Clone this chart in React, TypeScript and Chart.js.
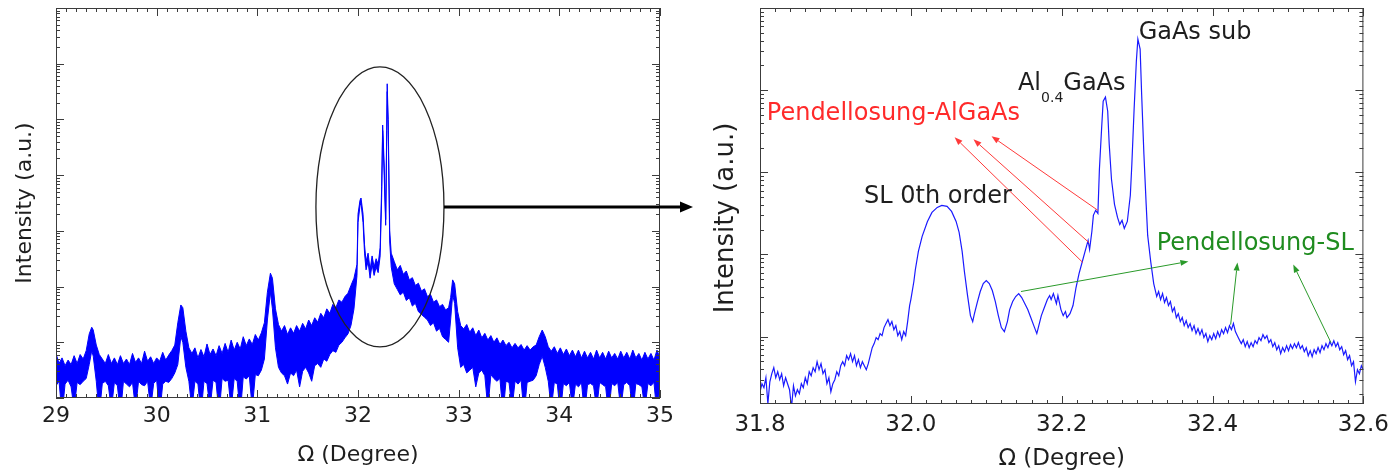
import React, { useEffect, useRef } from 'react';
import { Chart, registerables } from 'chart.js';

Chart.register(...registerables);

const FONT = "'DejaVu Sans', 'Liberation Sans', sans-serif";
const BLUE = '#0000ff';
const INK = '#1e1e1e';

// ---------- Left panel: wide Ω scan (y in decades of intensity) ----------
const leftTicks = [29, 30, 31, 32, 33, 34, 35];
const leftOmega = [
  29.00, 29.03, 29.06, 29.09, 29.12, 29.15, 29.18, 29.21, 29.24, 29.27,
  29.30, 29.33, 29.355, 29.37, 29.40, 29.43, 29.46, 29.49, 29.52, 29.55,
  29.58, 29.61, 29.64, 29.67, 29.70, 29.73, 29.76, 29.79, 29.82, 29.85,
  29.88, 29.91, 29.94, 29.97, 30.00, 30.03, 30.06, 30.09, 30.12, 30.15,
  30.18, 30.21, 30.24, 30.26, 30.29, 30.32, 30.35, 30.38, 30.41, 30.44,
  30.47, 30.50, 30.53, 30.56, 30.59, 30.62, 30.65, 30.68, 30.71, 30.74,
  30.77, 30.80, 30.83, 30.86, 30.89, 30.92, 30.95, 30.98, 31.01, 31.04,
  31.07, 31.10, 31.13, 31.15, 31.18, 31.21, 31.24, 31.27, 31.30, 31.33,
  31.36, 31.39, 31.42, 31.45, 31.48, 31.51, 31.54, 31.57, 31.60, 31.63,
  31.66, 31.69, 31.72, 31.75, 31.78, 31.81, 31.84, 31.87, 31.90, 31.93,
  31.96, 31.99, 32.00, 32.02, 32.03, 32.05, 32.065, 32.08, 32.10, 32.12,
  32.14, 32.16, 32.18, 32.20, 32.22, 32.235, 32.245, 32.26, 32.275, 32.285,
  32.29, 32.30, 32.315, 32.33, 32.36, 32.39, 32.42, 32.45, 32.48, 32.51,
  32.54, 32.57, 32.60, 32.63, 32.66, 32.69, 32.72, 32.75, 32.78, 32.81,
  32.84, 32.87, 32.90, 32.92, 32.94, 32.96, 32.99, 33.02, 33.05, 33.08,
  33.11, 33.14, 33.17, 33.20, 33.23, 33.26, 33.29, 33.32, 33.35, 33.38,
  33.41, 33.44, 33.47, 33.50, 33.53, 33.56, 33.59, 33.62, 33.65, 33.68,
  33.71, 33.74, 33.77, 33.80, 33.83, 33.86, 33.89, 33.92, 33.95, 33.98,
  34.01, 34.04, 34.07, 34.10, 34.13, 34.16, 34.19, 34.22, 34.25, 34.28,
  34.31, 34.34, 34.37, 34.40, 34.43, 34.46, 34.49, 34.52, 34.55, 34.58,
  34.61, 34.64, 34.67, 34.70, 34.73, 34.76, 34.79, 34.82, 34.85, 34.88,
  34.91, 34.94, 34.97, 35.00,
];
// upper envelope of the noisy trace
const leftUpper = [
  0.80, 0.62, 0.72, 0.58, 0.68, 0.60, 0.76, 0.62, 0.78, 0.70,
  0.85, 1.15, 1.27, 1.22, 0.95, 0.78, 0.70, 0.62, 0.78, 0.62,
  0.72, 0.60, 0.76, 0.62, 0.70, 0.60, 0.80, 0.64, 0.72, 0.62,
  0.84, 0.66, 0.74, 0.62, 0.72, 0.66, 0.82, 0.68, 0.77, 0.85,
  0.95, 1.35, 1.67, 1.62, 1.20, 0.90, 0.80, 0.90, 0.72, 0.87,
  0.74, 0.97, 0.78, 0.88, 0.76, 0.94, 0.80, 0.98, 0.82, 1.04,
  0.86, 1.00, 0.88, 1.10, 0.94, 1.06, 0.96, 1.14, 1.04, 1.17,
  1.35, 1.90, 2.24, 2.15, 1.60, 1.32, 1.20, 1.30, 1.14, 1.26,
  1.16, 1.30, 1.20, 1.34, 1.24, 1.40, 1.30, 1.44, 1.36, 1.52,
  1.44, 1.60, 1.52, 1.68, 1.62, 1.76, 1.72, 1.82, 1.88, 2.02,
  2.15, 2.40, 3.30, 3.55, 3.59, 3.30, 2.75, 2.45, 2.60, 2.30,
  2.55, 2.35, 2.50, 2.40, 2.70, 3.80, 4.90, 4.20, 3.20, 4.80,
  5.64, 5.00, 3.00, 2.60, 2.45, 2.30, 2.38, 2.22, 2.28, 2.12,
  2.16, 2.02, 2.06, 1.92, 1.96, 1.82, 1.86, 1.72, 1.76, 1.64,
  1.68, 1.58, 1.62, 1.80, 2.12, 2.05, 1.55, 1.30, 1.24, 1.32,
  1.18, 1.26, 1.12, 1.22, 1.08, 1.16, 1.04, 1.12, 1.00, 1.08,
  0.96, 1.04, 0.94, 1.00, 0.90, 0.98, 0.90, 0.96, 0.86, 0.94,
  0.86, 0.92, 0.95, 1.10, 1.22, 1.10, 0.92, 0.84, 0.92, 0.80,
  0.90, 0.78, 0.88, 0.76, 0.86, 0.74, 0.86, 0.72, 0.84, 0.72,
  0.82, 0.70, 0.86, 0.72, 0.82, 0.70, 0.84, 0.72, 0.80, 0.70,
  0.84, 0.72, 0.82, 0.70, 0.86, 0.72, 0.80, 0.68, 0.82, 0.70,
  0.80, 0.68, 0.86, 0.72,
];
// lower envelope of the noisy trace
const leftLower = [
  0.22, 0.30, -0.3, 0.25, 0.32, 0.20, -0.2, 0.28, 0.24, 0.30,
  0.35, 0.60, 0.85, 0.75, 0.30, -0.3, 0.26, 0.30, 0.22, -0.2,
  0.28, 0.22, -0.3, 0.30, 0.25, 0.20, 0.28, -0.2, 0.30, 0.24,
  0.22, 0.30, -0.2, 0.26, 0.32, -0.3, 0.25, 0.30, 0.28, 0.35,
  0.45, 0.60, 1.10, 1.00, 0.55, 0.30, -0.2, 0.30, 0.25, -0.3,
  0.30, 0.26, -0.2, 0.32, 0.28, -0.3, 0.35, 0.30, 0.32, -0.2,
  0.35, 0.30, -0.3, 0.38, 0.34, 0.40, -0.2, 0.42, 0.40, 0.50,
  0.70, 1.40, 1.90, 1.60, 0.90, 0.55, 0.45, 0.40, 0.25, 0.45,
  0.40, 0.50, 0.20, 0.48, 0.55, 0.45, 0.30, 0.58, 0.62, 0.55,
  0.70, 0.66, 0.78, 0.85, 0.82, 0.95, 1.00, 1.08, 1.15, 1.30,
  1.60, 2.20, 3.15, 3.45, 3.50, 3.15, 2.60, 2.30, 2.45, 2.15,
  2.40, 2.20, 2.35, 2.25, 2.55, 3.60, 4.80, 4.00, 3.10, 4.60,
  5.50, 4.80, 2.80, 2.35, 2.05, 1.95, 1.85, 1.90, 1.75, 1.80,
  1.65, 1.70, 1.55, 1.50, 1.45, 1.40, 1.30, 1.35, 1.20, 1.25,
  1.10, 1.05, 1.00, 1.40, 1.85, 1.70, 0.90, 0.55, 0.60, 0.45,
  0.50, 0.55, 0.20, 0.45, 0.50, 0.40, -0.2, 0.42, 0.35, 0.30,
  0.35, -0.3, 0.30, 0.28, -0.2, 0.30, 0.25, 0.32, -0.3, 0.28,
  0.30, 0.32, 0.40, 0.60, 0.75, 0.55, 0.30, -0.2, 0.28, 0.25,
  -0.3, 0.26, 0.22, 0.28, -0.2, 0.25, 0.20, 0.28, -0.3, 0.24,
  0.26, 0.22, -0.2, 0.28, 0.24, 0.20, -0.3, 0.26, 0.22, 0.28,
  -0.2, 0.24, 0.28, 0.22, -0.3, 0.26, 0.24, 0.20, -0.2, 0.26,
  0.22, 0.28, -0.3, 0.25,
];
// zoom ellipse (centre Ω, centre decade, half-width Ω, half-height decades) and the pointer arrow
const leftEllipse = [32.218, 3.429, 0.636, 2.513];
const leftPointer = [32.854, 3.429, 35.328, 3.429];

// ---------- Right panel: zoomed Ω scan (log10 intensity) ----------
const rightTicks = [31.8, 32.0, 32.2, 32.4, 32.6];
// low-angle side, sampled every 0.00261° from 31.8°
const rightLowStart = 31.8;
const rightLowStep = 0.00261;
const rightLow = [
  0.329, 0.427, 0.378, 0.500, 0.183, 0.451, 0.549, 0.622, 0.500, 0.573,
  0.476, 0.549, 0.402, 0.500, 0.427, 0.354, 0.134, 0.402, 0.280, 0.354,
  0.305, 0.427, 0.378, 0.500, 0.427, 0.573, 0.524, 0.622, 0.573, 0.695,
  0.598, 0.671, 0.549, 0.598, 0.427, 0.500, 0.329, 0.427, 0.476, 0.573,
  0.524, 0.646, 0.695, 0.646, 0.768, 0.720, 0.793, 0.695, 0.768, 0.646,
  0.720, 0.622, 0.695, 0.646, 0.598, 0.671, 0.768, 0.866, 0.915, 0.988,
  0.963, 1.037, 1.012, 1.110, 1.159, 1.207, 1.134, 1.183, 1.085, 1.134,
  1.012, 1.061, 0.963, 1.061, 1.012, 1.183, 1.378,
];
// peak region [Ω, log10 I]
const rightMid = [
  [32.000, 1.451], [32.004, 1.671], [32.006, 1.817], [32.010, 2.037], [32.015, 2.220], [32.022, 2.402],
  [32.028, 2.512], [32.035, 2.573], [32.041, 2.598], [32.048, 2.585], [32.054, 2.524], [32.060, 2.402],
  [32.064, 2.268], [32.068, 2.037], [32.071, 1.793], [32.075, 1.512], [32.079, 1.256], [32.082, 1.183],
  [32.084, 1.268], [32.088, 1.415], [32.092, 1.549], [32.096, 1.646], [32.100, 1.683], [32.104, 1.646],
  [32.108, 1.561], [32.112, 1.427], [32.116, 1.256], [32.120, 1.110], [32.124, 1.061], [32.128, 1.183],
  [32.131, 1.329], [32.135, 1.427], [32.139, 1.488], [32.143, 1.524], [32.147, 1.476], [32.151, 1.402],
  [32.155, 1.329], [32.159, 1.232], [32.163, 1.134], [32.167, 1.037], [32.169, 1.110], [32.173, 1.256],
  [32.177, 1.354], [32.181, 1.451], [32.184, 1.500], [32.186, 1.451], [32.189, 1.524], [32.193, 1.402],
  [32.195, 1.500], [32.199, 1.329], [32.202, 1.256], [32.205, 1.305], [32.207, 1.232], [32.211, 1.280],
  [32.215, 1.378], [32.219, 1.598], [32.223, 1.768], [32.227, 1.902], [32.231, 2.037], [32.235, 2.171],
  [32.237, 2.061], [32.240, 2.280], [32.242, 2.476], [32.245, 2.537], [32.248, 2.500], [32.250, 3.037],
  [32.253, 3.549], [32.255, 3.866], [32.258, 3.915], [32.261, 3.744], [32.263, 3.341], [32.266, 2.915],
  [32.270, 2.610], [32.274, 2.451], [32.277, 2.366], [32.280, 2.415], [32.283, 2.317], [32.287, 2.402],
  [32.291, 2.720], [32.293, 3.098], [32.296, 3.768], [32.299, 4.354], [32.301, 4.622], [32.304, 4.500],
  [32.306, 3.951], [32.309, 3.220], [32.312, 2.610], [32.314, 2.232], [32.318, 1.915], [32.322, 1.646],
  [32.326, 1.488],
];
// high-angle tail, sampled every 0.00261° from 32.3285°
const rightHighStart = 32.3285;
const rightHighStep = 0.00261;
const rightHigh = [
  1.549, 1.451, 1.524, 1.415, 1.476, 1.378, 1.427, 1.305, 1.354, 1.232,
  1.280, 1.183, 1.232, 1.134, 1.195, 1.110, 1.159, 1.073, 1.134, 1.037,
  1.098, 1.024, 1.085, 0.988, 1.037, 0.939, 1.012, 0.963, 1.037, 0.976,
  1.061, 1.000, 1.085, 1.037, 1.110, 1.049, 1.134, 1.085, 1.159, 1.061,
  1.012, 0.963, 0.915, 0.963, 0.878, 0.939, 0.866, 0.927, 0.878, 0.951,
  0.915, 0.988, 0.951, 1.024, 0.976, 1.012, 0.927, 0.963, 0.878, 0.927,
  0.841, 0.890, 0.793, 0.866, 0.817, 0.890, 0.829, 0.902, 0.854, 0.915,
  0.866, 0.927, 0.854, 0.890, 0.817, 0.866, 0.768, 0.829, 0.756, 0.841,
  0.793, 0.866, 0.805, 0.890, 0.841, 0.915, 0.866, 0.939, 0.890, 0.951,
  0.878, 0.927, 0.841, 0.878, 0.780, 0.829, 0.720, 0.768, 0.646, 0.695,
  0.451, 0.598, 0.549, 0.646, 0.598,
];
const rightLabels = [
  { text: 'GaAs sub', x: 32.302, y: 4.695, color: INK },
  { text: 'SL 0th order', x: 31.938, y: 2.707, color: INK },
  { text: 'Pendellosung-AlGaAs', x: 31.809, y: 3.707, color: '#ff2a2a' },
  { text: 'Pendellosung-SL', x: 32.326, y: 2.134, color: '#1f8c1f' },
];
const alLabel = { main: 'Al', sub: '0.4', tail: 'GaAs', x: 32.142, y: 4.073 };
// arrows: [tail Ω, tail decade, head Ω, head decade]
const redArrows = [
  [32.248, 2.537, 32.107, 3.439],
  [32.236, 2.146, 32.083, 3.402],
  [32.228, 1.902, 32.058, 3.427],
];
const greenArrows = [
  [32.146, 1.549, 32.368, 1.915],
  [32.424, 1.146, 32.433, 1.902],
  [32.557, 0.927, 32.507, 1.878],
];

// ---------- helpers ----------
function logMinor(min: number, max: number) {
  const out: number[] = [];
  for (let n = Math.floor(min); n < Math.ceil(max); n++) {
    for (let k = 2; k <= 9; k++) {
      const v = n + Math.log10(k);
      if (v > min && v < max) out.push(v);
    }
  }
  return out;
}
function intsIn(min: number, max: number) {
  const out: number[] = [];
  for (let n = Math.ceil(min); n <= Math.floor(max); n++) out.push(n);
  return out;
}
function steps(min: number, max: number, step: number) {
  const out: number[] = [];
  const n = Math.round((max - min) / step);
  for (let i = 0; i <= n; i++) out.push(min + i * step);
  return out;
}

function drawArrow(ctx: CanvasRenderingContext2D, x1: number, y1: number, x2: number, y2: number,
  color: string, width: number, headLen: number, headHalf: number) {
  const ang = Math.atan2(y2 - y1, x2 - x1);
  const bx = x2 - headLen * Math.cos(ang);
  const by = y2 - headLen * Math.sin(ang);
  ctx.strokeStyle = color;
  ctx.fillStyle = color;
  ctx.lineWidth = width;
  ctx.beginPath();
  ctx.moveTo(x1, y1);
  ctx.lineTo(bx, by);
  ctx.stroke();
  ctx.beginPath();
  ctx.moveTo(x2, y2);
  ctx.lineTo(bx + headHalf * Math.sin(ang), by - headHalf * Math.cos(ang));
  ctx.lineTo(bx - headHalf * Math.sin(ang), by + headHalf * Math.cos(ang));
  ctx.closePath();
  ctx.fill();
}

function framePlugin(id: string, xMaj: number[], xMin: number[], extra: (chart: any) => void) {
  return {
    id,
    afterDatasetsDraw(chart: any) {
      const { ctx, chartArea: a, scales } = chart;
      const xs = scales.x;
      const ys = scales.y;
      const yMaj = intsIn(ys.min, ys.max);
      const yMin = logMinor(ys.min, ys.max);
      ctx.save();
      ctx.strokeStyle = '#3c3c3c';
      ctx.lineWidth = 1;
      ctx.strokeRect(a.left + 0.5, a.top + 0.5, a.right - a.left - 1, a.bottom - a.top - 1);
      ctx.beginPath();
      const vt = (v: number, len: number) => {
        const p = Math.round(xs.getPixelForValue(v)) + 0.5;
        ctx.moveTo(p, a.bottom); ctx.lineTo(p, a.bottom - len);
        ctx.moveTo(p, a.top); ctx.lineTo(p, a.top + len);
      };
      const ht = (v: number, len: number) => {
        const p = Math.round(ys.getPixelForValue(v)) + 0.5;
        ctx.moveTo(a.left, p); ctx.lineTo(a.left + len, p);
        ctx.moveTo(a.right, p); ctx.lineTo(a.right - len, p);
      };
      xMaj.forEach((v) => vt(v, 8));
      xMin.forEach((v) => vt(v, 4));
      yMaj.forEach((v) => ht(v, 8));
      yMin.forEach((v) => ht(v, 4));
      ctx.stroke();
      extra(chart);
      ctx.restore();
    },
  };
}

function leftConfig(): any {
  const extra = (chart: any) => {
    const { ctx, scales: { x, y } } = chart;
    const [cx, cy, rx, ry] = leftEllipse;
    const px = x.getPixelForValue(cx);
    const py = y.getPixelForValue(cy);
    const prx = x.getPixelForValue(cx + rx) - px;
    const pry = py - y.getPixelForValue(cy + ry);
    ctx.strokeStyle = '#222';
    ctx.lineWidth = 1.3;
    ctx.beginPath();
    ctx.ellipse(px, py, prx, pry, 0, 0, Math.PI * 2);
    ctx.stroke();
    const [ax1, ay1, ax2, ay2] = leftPointer;
    drawArrow(ctx, x.getPixelForValue(ax1), y.getPixelForValue(ay1), x.getPixelForValue(ax2),
      y.getPixelForValue(ay2), '#000', 3, 13, 5.5);
  };
  return {
    type: 'line',
    data: {
      datasets: [
        {
          data: leftOmega.map((v, i) => ({ x: v, y: leftUpper[i] })),
          borderColor: BLUE, borderWidth: 1, pointRadius: 0, fill: false,
        },
        {
          data: leftOmega.map((v, i) => ({ x: v, y: leftLower[i] })),
          borderColor: BLUE, borderWidth: 1, pointRadius: 0, fill: '-1', backgroundColor: BLUE,
        },
      ],
    },
    options: {
      animation: false,
      responsive: true,
      maintainAspectRatio: false,
      layout: { padding: { left: 0, right: 45, top: 8, bottom: 0 } },
      plugins: { legend: { display: false }, tooltip: { enabled: false } },
      scales: {
        x: {
          type: 'linear', min: 29, max: 35,
          afterBuildTicks: (s: any) => { s.ticks = leftTicks.map((v) => ({ value: v })); },
          afterFit: (s: any) => { s.height = 77; },
          grid: { display: false, drawTicks: false },
          border: { display: false },
          ticks: { font: { family: FONT, size: 22 }, color: INK, padding: 5, maxRotation: 0, autoSkip: false },
          title: { display: true, text: 'Ω (Degree)', font: { family: FONT, size: 22 }, color: INK, padding: { top: 0, bottom: 7 } },
        },
        y: {
          type: 'linear', min: 0, max: 7,
          afterFit: (s: any) => { s.width = 56; },
          grid: { display: false, drawTicks: false },
          border: { display: false },
          ticks: { display: false },
          title: { display: true, text: 'Intensity (a.u.)', font: { family: FONT, size: 22 }, color: INK, padding: { top: 12, bottom: 0 } },
        },
      },
    },
    plugins: [framePlugin('leftFrame', leftTicks, steps(29, 35, 0.1), extra)],
  };
}

function rightConfig(): any {
  const extra = (chart: any) => {
    const { ctx, scales: { x, y } } = chart;
    redArrows.forEach(([a, b, c, d]) =>
      drawArrow(ctx, x.getPixelForValue(a), y.getPixelForValue(b), x.getPixelForValue(c), y.getPixelForValue(d), '#ff3a3a', 1, 8, 3));
    greenArrows.forEach(([a, b, c, d]) =>
      drawArrow(ctx, x.getPixelForValue(a), y.getPixelForValue(b), x.getPixelForValue(c), y.getPixelForValue(d), '#2a9a2a', 1, 8, 3));
    ctx.textAlign = 'left';
    ctx.textBaseline = 'middle';
    ctx.font = `24px ${FONT}`;
    rightLabels.forEach((l) => {
      ctx.fillStyle = l.color;
      ctx.fillText(l.text, x.getPixelForValue(l.x), y.getPixelForValue(l.y));
    });
    let px = x.getPixelForValue(alLabel.x);
    const py = y.getPixelForValue(alLabel.y);
    ctx.fillStyle = INK;
    ctx.fillText(alLabel.main, px, py);
    px += ctx.measureText(alLabel.main).width;
    ctx.font = `14px ${FONT}`;
    ctx.fillText(alLabel.sub, px, py + 14);
    px += ctx.measureText(alLabel.sub).width;
    ctx.font = `24px ${FONT}`;
    ctx.fillText(alLabel.tail, px, py);
    // y axis title
    ctx.save();
    ctx.translate(21.5, (chart.chartArea.top + chart.chartArea.bottom) / 2 + 12);
    ctx.rotate(-Math.PI / 2);
    ctx.textAlign = 'center';
    ctx.font = `26px ${FONT}`;
    ctx.fillStyle = INK;
    ctx.fillText('Intensity (a.u.)', 0, 0);
    ctx.restore();
  };
  const trace = [
    ...rightLow.map((v, i) => ({ x: rightLowStart + i * rightLowStep, y: v })),
    ...rightMid.map(([a, b]) => ({ x: a, y: b })),
    ...rightHigh.map((v, i) => ({ x: rightHighStart + i * rightHighStep, y: v })),
  ];
  return {
    type: 'line',
    data: {
      datasets: [
        { data: trace, borderColor: '#1a1aff', borderWidth: 1.2, pointRadius: 0, fill: false },
      ],
    },
    options: {
      animation: false,
      responsive: true,
      maintainAspectRatio: false,
      layout: { padding: { left: 0, right: 23, top: 8, bottom: 0 } },
      plugins: { legend: { display: false }, tooltip: { enabled: false } },
      scales: {
        x: {
          type: 'linear', min: 31.8, max: 32.6,
          afterBuildTicks: (s: any) => { s.ticks = rightTicks.map((v) => ({ value: v })); },
          afterFit: (s: any) => { s.height = 71; },
          grid: { display: false, drawTicks: false },
          border: { display: false },
          ticks: {
            font: { family: FONT, size: 23 }, color: INK, padding: 7, maxRotation: 0, autoSkip: false,
            callback: (v: any) => Number(v).toFixed(1),
          },
          title: { display: true, text: 'Ω (Degree)', font: { family: FONT, size: 23 }, color: INK, padding: { top: 0, bottom: 2 } },
        },
        y: {
          type: 'linear', min: 0.18, max: 5,
          afterFit: (s: any) => { s.width = 55; },
          grid: { display: false, drawTicks: false },
          border: { display: false },
          ticks: { display: false },
          title: { display: false },
        },
      },
    },
    plugins: [framePlugin('rightFrame', rightTicks, steps(31.8, 32.6, 0.02), extra)],
  };
}

export default function App() {
  const leftRef = useRef<HTMLCanvasElement>(null);
  const rightRef = useRef<HTMLCanvasElement>(null);
  useEffect(() => {
    const c1 = new Chart(leftRef.current as HTMLCanvasElement, leftConfig());
    const c2 = new Chart(rightRef.current as HTMLCanvasElement, rightConfig());
    return () => {
      c1.destroy();
      c2.destroy();
    };
  }, []);
  return (
    <div style={{ position: 'fixed', left: 0, top: 0, width: 1396, height: 475, background: '#fff' }}>
      <div style={{ position: 'absolute', left: 0, top: 0, width: 705, height: 475 }}>
        <canvas ref={leftRef} />
      </div>
      <div style={{ position: 'absolute', left: 705, top: 0, width: 691, height: 475 }}>
        <canvas ref={rightRef} />
      </div>
    </div>
  );
}
